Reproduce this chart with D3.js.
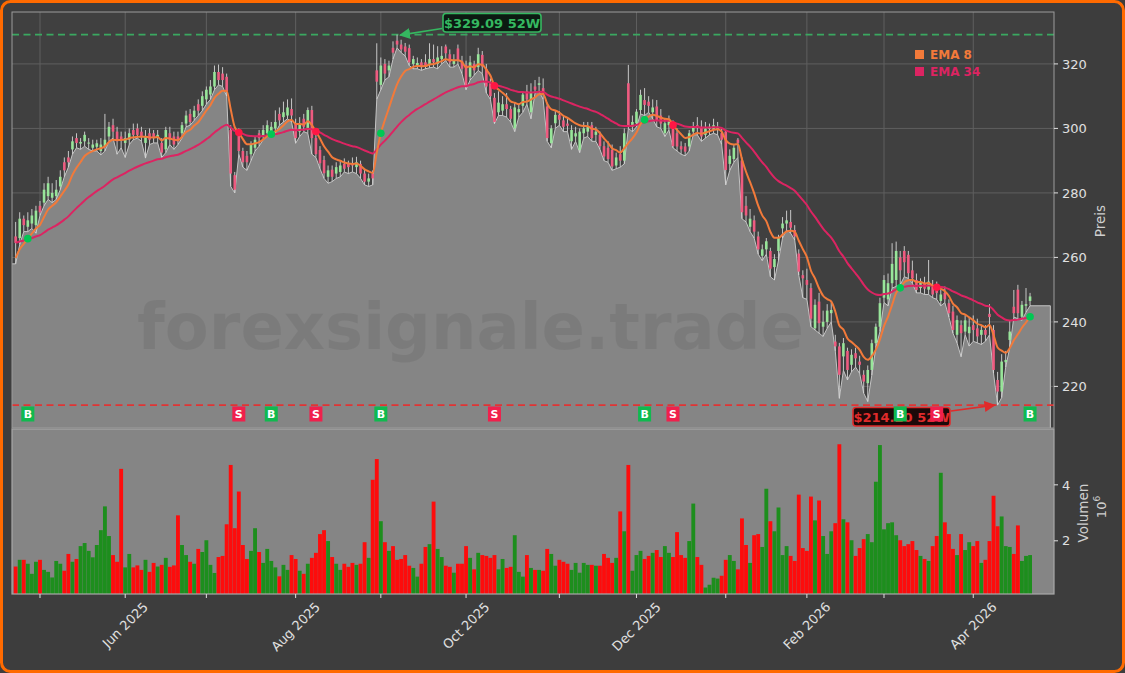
<!DOCTYPE html>
<html><head><meta charset="utf-8">
<script src="https://cdn.jsdelivr.net/npm/d3@7"></script>
<style>body{margin:0;background:#3d3d3d;}svg{display:block;font-family:"DejaVu Sans",sans-serif;}</style>
</head><body><svg id="c" width="1125" height="673"></svg>
<script>
// ---------------- data ----------------
const ticker = "ADSK";
const companyName = "Autodesk, Inc.";
const startDate = "2025-04-23";
const holidays = ["2025-05-26","2025-06-19","2025-07-04","2025-09-01","2025-11-27","2025-12-25","2026-01-01","2026-01-19","2026-02-16","2026-04-03"];
const opens = [266.5,266,272,269.5,270.5,270,276,277,279,278.5,
279,282,289.5,291,293.5,297,295.3,296,295.3,294,
294.3,293,294.5,297.5,301,299,297.5,295.5,296.5,299.5,
300,299,295.5,298.5,298.5,297,295.5,293.5,298.5,297.5,
297.5,298.5,301.5,304.5,303.5,307.5,307,309,310.5,313,
317.5,317,316,299.5,285.5,299,293,291.5,292,294,
298.5,297.5,298.5,299,300,304.5,303.5,304,306,301.6,
299,303,299.5,305.7,297,293.3,290.2,285,287.2,286,
286.5,289,289,289,288,289,286,283.5,286,318,
313.5,320,318,325,327.2,326,325.4,324.9,320,319.5,
320.5,320.5,320,321.5,320,321.5,325.4,323,320,324.8,
321,319.7,316,320,319,322.8,318.5,314,309.5,305,
305.5,307.5,306,300,305,307,311.5,305,313,313.5,
312.5,306.8,295.4,301.6,304.2,302.5,301.5,296,297.5,293.3,
298.5,299,301,298,298,294.5,294,293.3,288.5,292,
290,314,300.5,301.6,305.7,308.8,308.3,305,306.8,304,
298.5,301,300.5,298.5,294.5,294.4,294.4,299,301,300.5,
298,299.8,299.5,299.5,298.5,299,289,290.5,296.5,290,
276,269.5,271.5,266.5,260.5,262.5,262,257,262,269,
270.5,271,268.5,261.2,254.5,253,250.5,238,246.3,238.5,
240,242.7,233.9,232.4,229.3,231,226.7,230.3,227.7,223.6,
221,225.1,233.4,238.5,247.5,247,252,253,260,262,
260.8,256,253,250.5,252,250,251.5,251,246.5,249,
245.8,243.2,236,239,237,236.5,239,238,236,237.5,
242.5,237.5,222,218.4,227.5,234.4,244.7,250,241.6,245,
246.5];
const highs = [271,274,273,274,275,276,277.5,283,285,283,
284,287,291,293,297.5,298.5,297,299,297,296.5,
296.5,297,304.5,302,303,300.5,299,299,300,301.5,
301.5,300.5,299.5,300,299.5,299.5,297,300.5,300.5,299,
299,302,305.5,306,307,309,311.5,313,315,319.5,
319.8,319,317,301,286.5,300,294,293,296,297.5,
299.5,301,302.5,302,305.6,306.5,308.3,309,309.3,303,
303.5,304.5,306.5,307,298.5,294.5,291.5,288.5,288.5,289.5,
290,290.7,290,291,291.2,290,287.5,286,287,326.4,
322,321.5,321,327,329.09,327.5,326.5,326,322.5,322,
321.5,323,326.4,326,325.5,325.5,326,324.5,323,326,
322.5,321,322.5,321,325,324,320,315.5,311,311.5,
310,311,307,308,307.5,311.5,313.5,314,315,316,
315.5,308,301,305.5,305.3,304,303,301,300.5,300,
302,302,302,300.5,299,296,296,295,292.5,294.5,
300,319.7,304,306,312,312.5,310,309,308.8,306,
303,304,302.5,300,296,295.5,299.5,302,303.5,302.5,
302,301.5,303,302,300,299.5,293.5,295,297,291,
279,275,273,268,264,266,263,261,267,272.5,
274.5,274.7,270,262.5,256,256.5,252,247,249,243.5,
245.5,246,236,233.5,235,232,231.5,232,229.5,225,
226.5,234.5,239.5,247.5,254.5,255,264.4,264.9,262,263.5,
262,259,255,253.5,254,259.2,253,252.5,250,251,
247,245,242,240.5,242,241.5,242,241,239,239,
245.5,239,224.5,230,231,240.5,249.9,251.5,246.5,250.5,
249];
const lows = [258,264,268,268,269,267.5,273,276,278,277,
278,281,285,288,292,294,293.5,294.5,293.5,293,
293,291.8,293,296,297,292,294,291,295,296.5,
297,296,290.8,295,295.5,295.5,291,292.5,295,293.5,
295,297,300.5,301,302.5,304,305.5,307.5,309,312,
313.5,313,310,282,280,292,288,287,290,293,
294.5,296.5,297.5,297.5,298.5,301,302,303,302,295.4,
297.5,299,298.5,292,291,287.5,284.5,283,283.5,284.5,
285,286.5,286,286.5,286,284.5,282.5,282,282.5,309,
312,315,316,321.5,325,323.5,322.5,319.5,318.5,318.5,
318,318.5,318.8,319,318.5,320,321,319,319,320,
317,312,315,316.5,318,317,311,309,301.5,304,
304,303.5,302,299,303.5,305,307.5,303,311,311.5,
309,296,294,300,301,299,299,293.5,296,292.5,
297,297.5,296,296,293.5,290,289.5,287,287.5,288,
289,300,299,300.5,304.5,304,305,303,300.5,300,
297.5,299.5,294,293,292,291.5,293,298,298,296,
297,298,298.5,298,295,282.5,287,289.5,291,272,
271,268,266,261,259,261,254,253,259,266,
268.5,267.5,265.4,254.5,247.5,247,238.5,237.5,236.5,235.5,
238,240,231,216.3,225,222,224.5,226,224,217.9,
215.3,223.5,232,237,246,245,250.5,251,251.5,254,
253.5,252,249,249,248.5,248.5,247.5,247,245,246,
241.5,236.5,233.5,229.2,236,232.5,234,233.5,233,234,
236,224,214.2,216.5,226,232,241.5,241,240.5,243,
245];
const closes = [264.5,272,270,271.5,273,274.5,274,281,283,280,
281,285,287,289.5,296,295.5,295.8,298,295.6,295,
295.4,295,296.5,300.5,299,296,296.5,297,298.5,298,
298,297.5,297.5,296.5,297,298,292.5,299.5,296.5,295,
296,301,304,302,305.5,305.5,310,312,313,317.5,
315,315,311.5,286,281,293,289.5,289.5,295,296.5,
297,299.5,301,300.5,302,302.5,305,306.5,304,297,
301.5,300.5,305.7,297,292,289.2,286.1,287,285,288,
288.5,287.5,288,288.5,289.5,286,283.5,284.5,284.5,314.5,
319.5,317,319.5,323.5,326,324.5,323.8,320.5,321.5,320.3,
319,319.5,321.5,320.5,322,322.5,323.3,320.5,321,321.2,
318.5,313,320.5,318,323,319.2,313,310,302,308,
307.5,306,303,306.5,306,310.5,309,311,312,314,
311,297,300,304.2,302.7,300.5,300.8,299.5,298.5,299,
300,300.5,297,299,294.5,291.3,290.5,288.2,291,290,
298.5,301,302,305.2,310.4,307.3,307,306.5,302.6,301.5,
301.6,302.5,294.5,294.4,293.5,292.8,298.5,300.5,300.5,297.5,
300,300.5,301,300.5,296.5,287.1,291.5,294,295.5,274,
273,272,268,262.5,262.5,265,256.5,259.5,266,270.5,
271.5,269.2,266.5,255.6,253.5,251.5,241,245.3,239.6,240,
243.5,243.7,232.4,223.6,233.4,225.1,229.8,228.7,226.7,221.5,
225.1,233.4,238.5,245.8,253,252,258,262,256,258.5,
255.1,253.5,249.9,252.5,250.3,252.5,248.5,249,248.5,247,
242.7,237.5,240.6,236.5,240.5,238.5,237.5,235.5,237.5,236,
241.5,225.1,218.4,227.7,228.2,237,242.7,242.7,245.3,245.5,
247.9];
// volume in millions of shares
const volumes = [1.08,1.32,1.32,1.18,0.82,1.25,1.32,0.96,0.89,0.69,
1.28,1.18,0.93,1.53,1.25,1.35,1.81,1.92,1.64,1.41,
1.85,2.38,3.23,2.17,1.49,1.25,4.57,1.05,1.53,1.05,
1.12,0.96,1.32,0.89,1.21,1.08,1.14,1.39,1.07,1.12,
2.91,1.85,1.49,1.25,1.18,1.71,1.6,2.02,1.14,0.85,
1.42,1.46,2.59,4.71,2.45,3.76,1.85,1.35,1.64,2.45,
1.6,1.21,1.71,1.28,1.05,0.73,1.14,0.96,1.49,1.35,
0.93,0.82,1.18,1.39,1.57,2.24,2.38,1.99,1.42,1.18,
0.96,1.18,1.07,1.21,1.14,1.18,1.95,1.39,4.18,4.92,
2.7,1.95,1.64,1.81,1.32,1.35,1.49,1.11,1.03,0.72,
1.18,1.78,1.88,3.4,1.71,1.42,1.11,1.07,0.86,1.18,
1.18,1.81,1.39,0.98,1.57,1.49,1.46,1.39,1.49,0.98,
1.35,1.03,1.07,2.2,0.89,0.72,1.49,1.03,0.96,0.96,
0.93,1.71,1.53,1.11,1.32,1.25,1.18,0.96,1.21,0.86,
1.21,1.14,1.14,1.11,1.11,1.53,1.39,1.21,1.39,3.05,
2.34,4.71,0.93,1.49,1.64,1.35,1.46,1.57,1.67,1.42,
1.81,1.57,1.42,2.31,1.49,1.39,1.99,3.33,1.42,1.14,
0.33,0.43,0.68,0.65,0.75,1.32,1.49,1.28,0.98,2.8,
1.85,1.21,2.2,2.24,1.78,3.86,2.7,2.34,3.19,1.49,
1.81,1.46,1.28,3.65,1.74,1.64,3.58,2.73,3.44,2.17,
1.53,2.34,2.63,5.45,2.77,2.66,2.02,1.46,1.74,2.06,
2.24,1.95,4.11,5.42,2.41,2.63,2.66,2.2,2.02,1.81,
1.88,1.99,1.67,1.46,1.35,1.28,1.81,2.17,4.43,2.66,
2.24,1.71,1.49,2.24,1.67,1.95,1.81,1.99,1.21,1.32,
1.99,3.61,2.52,2.87,1.81,1.78,1.53,2.55,1.28,1.46,
1.49];
const emaPeriods = [8, 34];
const emaSeeds = [258.5, 264.5];      // indicator values just before the first bar
const priceTicks = [220, 240, 260, 280, 300, 320];
const volumeTicks = [2, 4];
const legendLabels = ["EMA 8", "EMA 34"];

// ---------------- helpers ----------------
function tradingDays(start, n) {
  const out = []; const d = new Date(start + "T00:00:00Z");
  while (out.length < n) {
    const s = d.toISOString().slice(0, 10), w = d.getUTCDay();
    if (w !== 0 && w !== 6 && !holidays.includes(s)) out.push(s);
    d.setUTCDate(d.getUTCDate() + 1);
  }
  return out;
}
const n = closes.length;
const dates = tradingDays(startDate, n);
function ema(vals, p, seed) { const a = 2 / (p + 1); let e = seed; return vals.map(v => (e = e + a * (v - e))); }
const ema8 = ema(closes, emaPeriods[0], emaSeeds[0]);
const ema34 = ema(closes, emaPeriods[1], emaSeeds[1]);
const signals = [];
for (let i = 1; i < n; i++) {
  const a = ema8[i - 1] - ema34[i - 1], b = ema8[i] - ema34[i];
  if (a <= 0 && b > 0) signals.push({ i, t: "B" });
  if (a >= 0 && b < 0) signals.push({ i, t: "S" });
}
const hi52 = d3.max(highs), lo52 = d3.min(lows);
const hiIdx = highs.indexOf(hi52), loIdx = lows.indexOf(lo52);

// ---------------- layout ----------------
const W = 1125, H = 673;
const X0 = 12, X1 = 1054, PT = 12, PB = 428, VT = 429, VB = 594;
const svg = d3.select("#c");
const x = d3.scaleLinear().domain([-0.9, n - 1 + 5.9]).range([X0, X1]);
const y = d3.scaleLinear().domain([207.1, 336.1]).range([PB, PT]);
const yv = d3.scaleLinear().domain([0.3 * d3.min(volumes), 1.1 * d3.max(volumes)]).range([VB, VT]);

const C = {
  fig: "#3d3d3d", ax: "#404040", grid: "#5f5f5f", area: "#858585", areaLine: "#c4c4c4",
  volBg: "#858585", frame: "#9c9c9c", text: "#e0e0e0",
  ema8: "#f27a3a", ema34: "#dc2462", up: "#98e59a", down: "#ee5b80", wick: "#d6d6d6",
  vUp: "#1d8e1d", vDown: "#fd0c0c", green: "#3aa860", red: "#e03434",
  bBox: "#10b94f", sBox: "#f0204c"
};

// figure background with orange border
svg.append("rect").attr("x", 1.5).attr("y", 1.5).attr("width", W - 3).attr("height", H - 3)
  .attr("rx", 9).attr("fill", C.fig).attr("stroke", "#ff6a00").attr("stroke-width", 3);

const defs = svg.append("defs");
defs.append("clipPath").attr("id", "pc").append("rect").attr("x", X0).attr("y", PT).attr("width", X1 - X0).attr("height", PB - PT);
["g", "r"].forEach(k => {
  defs.append("marker").attr("id", "ar" + k).attr("viewBox", "0 0 10 10").attr("refX", 9).attr("refY", 5)
    .attr("markerWidth", 7).attr("markerHeight", 7).attr("orient", "auto")
    .append("path").attr("d", "M0,0 L10,5 L0,10 z").attr("fill", k === "g" ? "#35b860" : "#e02b2b");
});

// month ticks
const monthIdx = [];
for (let i = 1; i < n; i++) if (dates[i].slice(0, 7) !== dates[i - 1].slice(0, 7)) monthIdx.push(i);
const fmt = d3.timeFormat("%b %Y");

// ---------------- price panel ----------------
svg.append("rect").attr("x", X0).attr("y", PT).attr("width", X1 - X0).attr("height", PB - PT).attr("fill", C.ax);
const pg = svg.append("g").attr("clip-path", "url(#pc)");
pg.selectAll("line.hg").data(priceTicks).join("line").attr("x1", X0).attr("x2", X1)
  .attr("y1", d => y(d)).attr("y2", d => y(d)).attr("stroke", C.grid).attr("stroke-width", 1);
pg.selectAll("line.vg").data(monthIdx).join("line").attr("y1", PT).attr("y2", PB)
  .attr("x1", d => x(d)).attr("x2", d => x(d)).attr("stroke", C.grid).attr("stroke-width", 1);

const areaPts = [[-0.9, lows[0]]].concat(lows.map((v, i) => [i, v]), [[n - 1 + 5, lows[n - 1]]]);
pg.append("path").datum(areaPts).attr("fill", C.area)
  .attr("d", d3.area().x(d => x(d[0])).y0(PB).y1(d => y(d[1])));
pg.append("path").datum(areaPts.concat([[n - 1 + 5, 207.1]])).attr("fill", "none").attr("stroke", C.areaLine).attr("stroke-width", 1)
  .attr("d", d3.line().x(d => x(d[0])).y(d => y(d[1])));

// watermark
const wm = svg.append("g").attr("fill", "#000").attr("fill-opacity", 0.07).attr("font-weight", "bold");
wm.append("text").attr("x", 137).attr("y", 349).attr("font-size", 64).text("forexsignale.trade");
wm.append("text").attr("x", 484).attr("y", 480).attr("text-anchor", "middle").attr("font-size", 59).text(ticker);
wm.append("text").attr("x", 480).attr("y", 501).attr("text-anchor", "middle").attr("font-size", 14).attr("font-weight", "normal").text(companyName);

// 52W lines
pg.append("line").attr("x1", X0).attr("x2", X1).attr("y1", y(hi52)).attr("y2", y(hi52))
  .attr("stroke", C.green).attr("stroke-width", 1.6).attr("stroke-dasharray", "7,4.5");
pg.append("line").attr("x1", X0).attr("x2", X1).attr("y1", y(lo52)).attr("y2", y(lo52))
  .attr("stroke", C.red).attr("stroke-width", 1.6).attr("stroke-dasharray", "7,4.5");

// candles
const cg = pg.append("g");
const bw = 2.6;
cg.selectAll("line.w").data(d3.range(n)).join("line")
  .attr("x1", i => x(i)).attr("x2", i => x(i)).attr("y1", i => y(highs[i])).attr("y2", i => y(lows[i]))
  .attr("stroke", C.wick).attr("stroke-width", 0.9);
cg.selectAll("rect.b").data(d3.range(n)).join("rect")
  .attr("x", i => x(i) - bw / 2).attr("width", bw)
  .attr("y", i => y(Math.max(opens[i], closes[i])))
  .attr("height", i => Math.max(1, Math.abs(y(opens[i]) - y(closes[i]))))
  .attr("fill", i => closes[i] >= opens[i] ? C.up : C.down);

// EMA lines
const ln = d3.line().x((d, i) => x(i)).y(d => y(d)).curve(d3.curveMonotoneX);
pg.append("path").datum(ema34).attr("fill", "none").attr("stroke", C.ema34).attr("stroke-width", 2).attr("d", ln);
pg.append("path").datum(ema8).attr("fill", "none").attr("stroke", C.ema8).attr("stroke-width", 2).attr("d", ln);

// crossover dots
pg.selectAll("circle.s").data(signals).join("circle")
  .attr("cx", d => x(d.i)).attr("cy", d => y(ema8[d.i])).attr("r", 3.8)
  .attr("fill", d => d.t === "B" ? "#00c853" : "#ff1744");

// frame
svg.append("rect").attr("x", X0).attr("y", PT).attr("width", X1 - X0).attr("height", PB - PT)
  .attr("fill", "none").attr("stroke", C.frame).attr("stroke-width", 1);

// 52W annotations
function annot(txt, bx, by, bwid, col, bg, ax1, ay1, ax2, ay2, mk) {
  svg.append("line").attr("x1", ax1).attr("y1", ay1).attr("x2", ax2).attr("y2", ay2)
    .attr("stroke", col).attr("stroke-width", 1.6).attr("marker-end", "url(#" + mk + ")");
  svg.append("rect").attr("x", bx).attr("y", by).attr("width", bwid).attr("height", 18.5).attr("rx", 3)
    .attr("fill", bg).attr("stroke", col).attr("stroke-width", 1.6);
  svg.append("text").attr("x", bx + bwid / 2).attr("y", by + 14).attr("text-anchor", "middle")
    .attr("font-size", 13).attr("font-weight", "bold").attr("fill", col).text(txt);
}
annot("$" + hi52.toFixed(2) + " 52W", 443, 13.5, 98, "#35b860", "#0c1a12", 442, 28.5, x(hiIdx) + 3, y(hi52) + 0.5, "arg");
annot("$" + lo52.toFixed(2) + " 52W", 853, 407.5, 97, "#e02b2b", "#1c0909", 951, 411, x(loIdx) - 3, y(lo52), "arr");

// B / S markers
const sg = svg.append("g");
signals.forEach(s => {
  const cx = x(s.i);
  sg.append("rect").attr("x", cx - 6.5).attr("y", 406.5).attr("width", 13).attr("height", 15)
    .attr("fill", s.t === "B" ? C.bBox : C.sBox);
  sg.append("text").attr("x", cx).attr("y", 418.2).attr("text-anchor", "middle").attr("font-size", 11)
    .attr("font-weight", "bold").attr("fill", "#fff").text(s.t);
});

// legend
[[C.ema8, legendLabels[0], 50], [C.ema34, legendLabels[1], 67]].forEach(([c, t, yy]) => {
  svg.append("rect").attr("x", 915).attr("y", yy).attr("width", 9).attr("height", 9).attr("fill", c);
  svg.append("text").attr("x", 930).attr("y", yy + 8.5).attr("font-size", 12).attr("font-weight", "bold").attr("fill", c).text(t);
});

// price axis (right)
const ya = svg.append("g");
priceTicks.forEach(t => {
  ya.append("line").attr("x1", X1).attr("x2", X1 + 4).attr("y1", y(t)).attr("y2", y(t)).attr("stroke", C.text);
  ya.append("text").attr("x", X1 + 8).attr("y", y(t)).attr("dy", "0.36em").attr("font-size", 13).attr("fill", C.text).text(t);
});
svg.append("text").attr("transform", "translate(1105,221) rotate(-90)").attr("text-anchor", "middle")
  .attr("font-size", 13.5).attr("fill", "#cfcfcf").text("Preis");

// ---------------- volume panel ----------------
svg.append("rect").attr("x", X0).attr("y", VT).attr("width", X1 - X0).attr("height", VB - VT).attr("fill", C.volBg);
const vbw = 4.057 * 0.95;
svg.append("g").selectAll("rect").data(d3.range(n)).join("rect")
  .attr("x", i => x(i) - vbw / 2).attr("width", vbw)
  .attr("y", i => yv(volumes[i])).attr("height", i => VB - yv(volumes[i]))
  .attr("fill", i => closes[i] >= opens[i] ? C.vUp : C.vDown);
svg.append("rect").attr("x", X0).attr("y", VT).attr("width", X1 - X0).attr("height", VB - VT)
  .attr("fill", "none").attr("stroke", "#a8a8a8").attr("stroke-width", 1.2);
volumeTicks.forEach(t => {
  svg.append("line").attr("x1", X1).attr("x2", X1 + 4).attr("y1", yv(t)).attr("y2", yv(t)).attr("stroke", C.text);
  svg.append("text").attr("x", X1 + 8).attr("y", yv(t)).attr("dy", "0.36em").attr("font-size", 13).attr("fill", C.text).text(t);
});
svg.append("text").attr("transform", "translate(1088,513) rotate(-90)").attr("text-anchor", "middle")
  .attr("font-size", 13.5).attr("fill", "#cfcfcf").text("Volumen");
const tp = svg.append("text").attr("transform", "translate(1106,507) rotate(-90)").attr("text-anchor", "middle")
  .attr("font-size", 13).attr("fill", "#cfcfcf");
tp.append("tspan").text("10");
tp.append("tspan").attr("font-size", 9).attr("dy", -6).text("6");

// x axis
monthIdx.forEach(i => {
  svg.append("line").attr("x1", x(i)).attr("x2", x(i)).attr("y1", VB).attr("y2", VB + 4).attr("stroke", C.text);
  const m = +dates[i].slice(5, 7);
  if (m % 2 === 0) {
    const lab = fmt(new Date(dates[i] + "T12:00:00"));
    const t = svg.append("text").attr("font-size", 13).attr("fill", C.text).attr("text-anchor", "middle")
      .attr("dominant-baseline", "central").text(lab);
    const L = t.node().getComputedTextLength();
    const half = (L + 13) * 0.7071 / 2;
    t.attr("transform", `translate(${x(i)},${600 + half}) rotate(-45)`);
  }
});
</script></body></html>
